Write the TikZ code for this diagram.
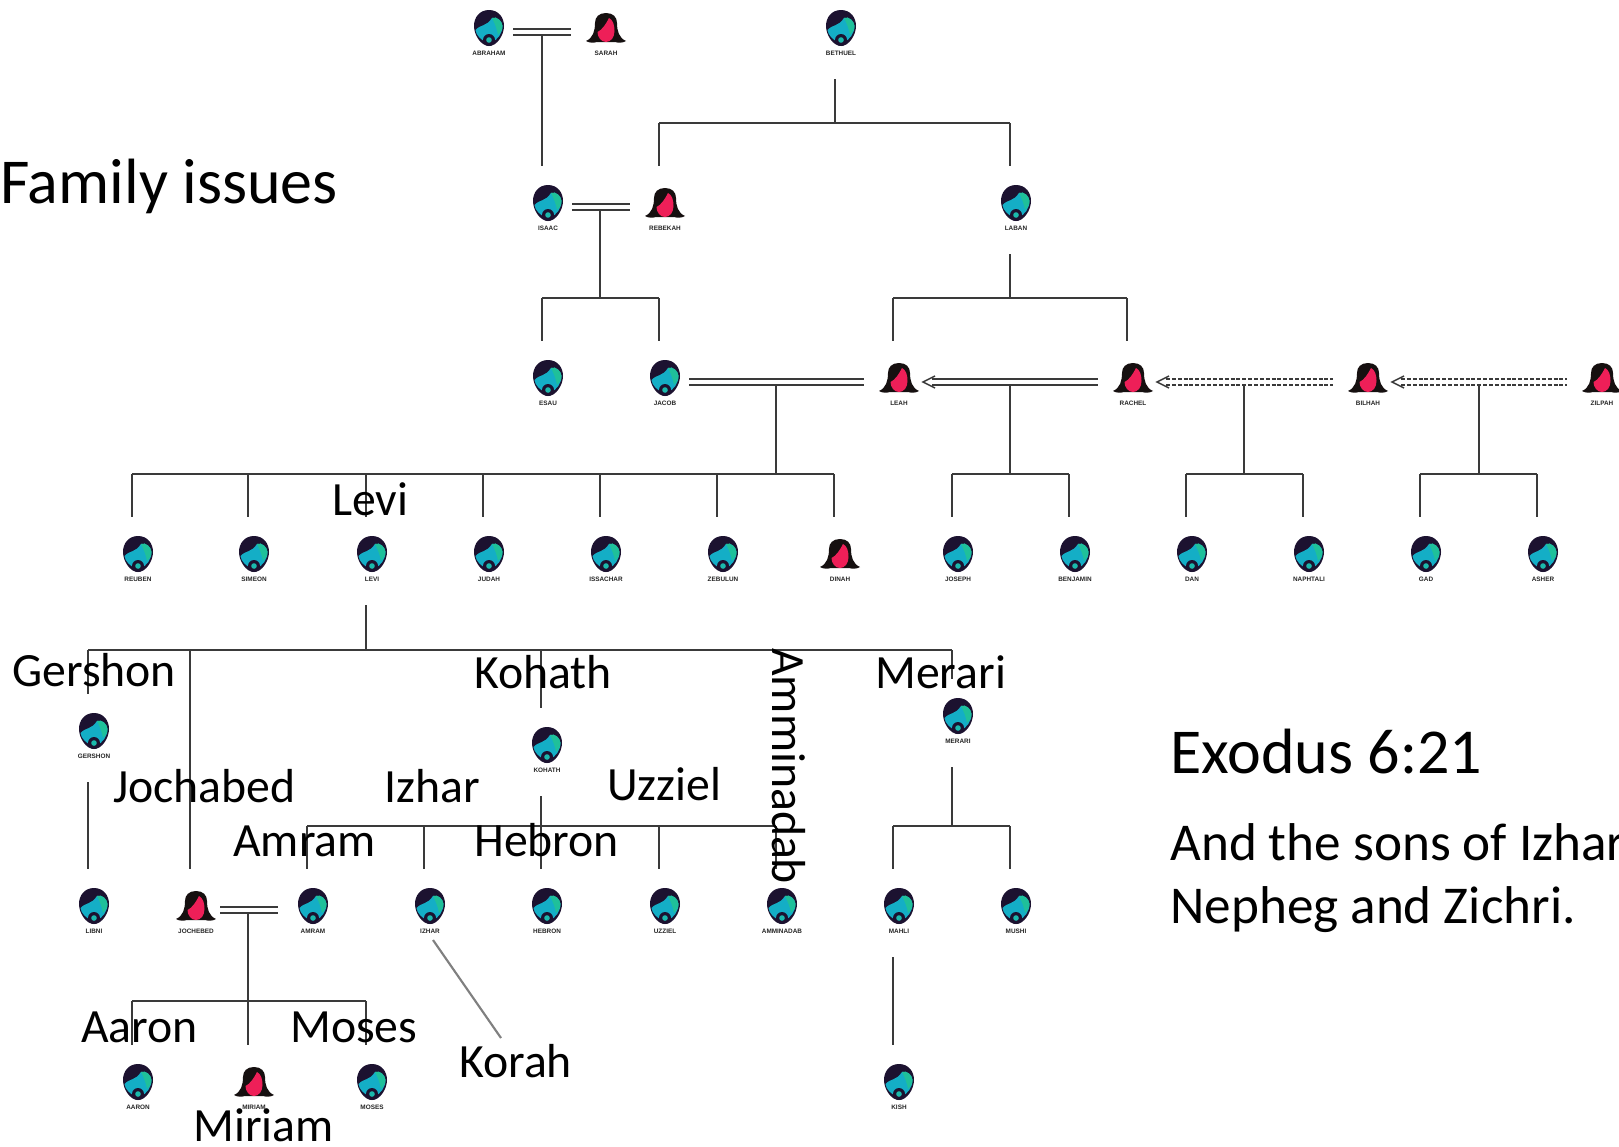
\documentclass[tikz,border=0pt]{standalone}
\usepackage{fontspec}
\setmainfont{Carlito}
\newfontfamily\tinyfam{Liberation Sans}
\definecolor{headdark}{HTML}{1C1230}
\definecolor{faceteal}{HTML}{14AEC6}
\definecolor{facegreen}{HTML}{1FC09A}
\definecolor{facepink}{HTML}{EE1F58}
\definecolor{hairblack}{HTML}{161010}
\definecolor{linedark}{HTML}{3A3A3A}
\tikzset{
  malehead/.pic={
    \fill[headdark] (0,-18) .. controls (10,-18) and (15,-10) .. (15,-2) .. controls (15,7) and (8,18) .. (0,18) .. controls (-8,18) and (-15,7) .. (-15,-2) .. controls (-15,-10) and (-10,-18) .. (0,-18) -- cycle;
    \fill[faceteal] (-13.5,2) .. controls (-8,-4) and (-3,-1) .. (3,-10) .. controls (8,-12) and (13,-7) .. (13.5,-2) .. controls (13.5,6) and (8,12) .. (3,14) -- (-3,14) .. controls (-8,12) and (-13,7) .. (-13.5,2) -- cycle;
    \fill[facegreen] (3,-10) .. controls (8,-12) and (13,-7) .. (13.5,-2) .. controls (13.5,2) and (11,5) .. (9,7) .. controls (8,1) and (6,-4) .. (3,-10) -- cycle;
    \fill[headdark] (0,12) circle[radius=6];
    \fill[facegreen!60!faceteal] (0,12) circle[radius=2.8];
  },
  femalehead/.pic={
    \fill[hairblack] (0,-15) .. controls (7,-15) and (11,-11) .. (11,-5) .. controls (11,3) and (13,10) .. (20,13) .. controls (17,15) and (12,15) .. (9,14) -- (-9,14) .. controls (-12,15) and (-17,15) .. (-20,13) .. controls (-13,10) and (-11,3) .. (-11,-5) .. controls (-11,-11) and (-7,-15) .. (0,-15) -- cycle;
    \fill[facepink] (3,-10) .. controls (7,-8) and (8.5,-3) .. (8.5,3) .. controls (8.5,9) and (5,14) .. (0,14) .. controls (-5,14) and (-8.5,9) .. (-8.5,4) .. controls (-4,2) and (0,-4) .. (3,-10) -- cycle;
  },
  personbox/.style={minimum width=22.5pt,minimum height=27pt,inner sep=0pt,draw=none},
  tinylabel/.style={inner sep=0pt,text=black!85,font=\tinyfam\bfseries\fontsize{4.8}{6}\selectfont},
  tree/.style={draw=linedark,line width=1.15pt},
  spouse/.style={draw=linedark,line width=1.1pt},
  concubine/.style={draw=linedark,line width=1.1pt,dash pattern=on 3pt off 1.4pt},
  chevron/.style={draw=linedark,line width=1.1pt},
  pointer/.style={draw=black!50,line width=1.6pt},
  bigname/.style={anchor=base west,inner sep=0pt,font=\fontsize{35.8}{42}\selectfont,text=black},
  heading/.style={anchor=base west,inner sep=0pt,font=\fontsize{48}{56}\selectfont,text=black},
  verse/.style={anchor=base west,inner sep=0pt,font=\fontsize{39.9}{47}\selectfont,text=black},
}
% id, x, y, label, pic
\newcommand{\person}[5]{%
  \node[personbox] (#1) at (#2,#3) {};
  \pic at (#2,#3) {#5};
  \node[tinylabel] (#1-l) at (#2,#3+25) {#4};
  \coordinate (#1-t) at (#2-6,#3-37);
  \coordinate (#1-b) at (#2-6,#3+51);
  \coordinate (#1-ea) at (#2+24,#3+1);
  \coordinate (#1-eb) at (#2+24,#3+7);
  \coordinate (#1-wa) at (#2-35,#3+1);
  \coordinate (#1-wb) at (#2-35,#3+7);
  \coordinate (#1-tip) at (#2+24,#3+4);
  \coordinate (#1-ga) at (#2+33,#3+1);
  \coordinate (#1-gb) at (#2+33,#3+7);
}
% junction, first, last, all children
\newcommand{\sibs}[4]{%
  \draw[tree] (#1 -| #2-t) -- (#1 -| #3-t);
  \foreach \kidname in {#4} {\draw[tree] (#1 -| \kidname-t) -- (\kidname-t);}
}
\begin{document}
\begin{tikzpicture}[x=0.75pt,y=-0.75pt]
\useasboundingbox[fill=white] (0,0) rectangle (1619,1146);
% people
\person{abraham}{489}{28}{ABRAHAM}{malehead}
\person{sarah}{606}{28}{SARAH}{femalehead}
\person{bethuel}{841}{28}{BETHUEL}{malehead}
\person{isaac}{548}{203}{ISAAC}{malehead}
\person{rebekah}{665}{203}{REBEKAH}{femalehead}
\person{laban}{1016}{203}{LABAN}{malehead}
\person{esau}{548}{378}{ESAU}{malehead}
\person{jacob}{665}{378}{JACOB}{malehead}
\person{leah}{899}{378}{LEAH}{femalehead}
\person{rachel}{1133}{378}{RACHEL}{femalehead}
\person{bilhah}{1368}{378}{BILHAH}{femalehead}
\person{zilpah}{1602}{378}{ZILPAH}{femalehead}
\person{reuben}{138}{554}{REUBEN}{malehead}
\person{simeon}{254}{554}{SIMEON}{malehead}
\person{levi}{372}{554}{LEVI}{malehead}
\person{judah}{489}{554}{JUDAH}{malehead}
\person{issachar}{606}{554}{ISSACHAR}{malehead}
\person{zebulun}{723}{554}{ZEBULUN}{malehead}
\person{dinah}{840}{554}{DINAH}{femalehead}
\person{joseph}{958}{554}{JOSEPH}{malehead}
\person{benjamin}{1075}{554}{BENJAMIN}{malehead}
\person{dan}{1192}{554}{DAN}{malehead}
\person{naphtali}{1309}{554}{NAPHTALI}{malehead}
\person{gad}{1426}{554}{GAD}{malehead}
\person{asher}{1543}{554}{ASHER}{malehead}
\person{gershon}{94}{731}{GERSHON}{malehead}
\person{kohath}{547}{745}{KOHATH}{malehead}
\person{merari}{958}{716}{MERARI}{malehead}
\person{libni}{94}{906}{LIBNI}{malehead}
\person{jochebed}{196}{906}{JOCHEBED}{femalehead}
\person{amram}{313}{906}{AMRAM}{malehead}
\person{izhar}{430}{906}{IZHAR}{malehead}
\person{hebron}{547}{906}{HEBRON}{malehead}
\person{uzziel}{665}{906}{UZZIEL}{malehead}
\person{amminadab}{782}{906}{AMMINADAB}{malehead}
\person{mahli}{899}{906}{MAHLI}{malehead}
\person{mushi}{1016}{906}{MUSHI}{malehead}
\person{aaron}{138}{1082}{AARON}{malehead}
\person{miriam}{254}{1082}{MIRIAM}{femalehead}
\person{moses}{372}{1082}{MOSES}{malehead}
\person{kish}{899}{1082}{KISH}{malehead}
% marriages
\draw[spouse] (abraham-ea) -- (sarah-wa);
\draw[spouse] (abraham-eb) -- (sarah-wb);
\draw[spouse] (isaac-ea) -- (rebekah-wa);
\draw[spouse] (isaac-eb) -- (rebekah-wb);
\draw[spouse] (jacob-ea) -- (leah-wa);
\draw[spouse] (jacob-eb) -- (leah-wb);
\draw[spouse] (jochebed-ea) -- (amram-wa);
\draw[spouse] (jochebed-eb) -- (amram-wb);
\draw[spouse] (leah-ga) -- (rachel-wa);
\draw[spouse] (leah-gb) -- (rachel-wb);
\draw[chevron] ([shift={(12,-6)}]leah-tip) -- (leah-tip) -- ([shift={(12,6)}]leah-tip);
\draw[concubine] (rachel-ga) -- (bilhah-wa);
\draw[concubine] (rachel-gb) -- (bilhah-wb);
\draw[chevron] ([shift={(12,-6)}]rachel-tip) -- (rachel-tip) -- ([shift={(12,6)}]rachel-tip);
\draw[concubine] (bilhah-ga) -- (zilpah-wa);
\draw[concubine] (bilhah-gb) -- (zilpah-wb);
\draw[chevron] ([shift={(12,-6)}]bilhah-tip) -- (bilhah-tip) -- ([shift={(12,6)}]bilhah-tip);
% descent
\draw[tree] (abraham-eb -| isaac-t) -- (isaac-t);
\coordinate (jbeth) at (835,123);
\draw[tree] (bethuel-b) -- (jbeth);
\sibs{jbeth}{rebekah}{laban}{rebekah,laban}
\coordinate (jisaac) at (600,298);
\draw[tree] (isaac-eb -| jisaac) -- (jisaac);
\sibs{jisaac}{esau}{jacob}{esau,jacob}
\coordinate (jlaban) at (1010,298);
\draw[tree] (laban-b) -- (jlaban);
\sibs{jlaban}{leah}{rachel}{leah,rachel}
\coordinate (jjacob) at (776,474);
\draw[tree] (jacob-eb -| jjacob) -- (jjacob);
\sibs{jjacob}{reuben}{dinah}{reuben,simeon,levi,judah,issachar,zebulun,dinah}
\coordinate (jrachel) at (1010,474);
\draw[tree] (leah-gb -| jrachel) -- (jrachel);
\sibs{jrachel}{joseph}{benjamin}{joseph,benjamin}
\coordinate (jbilhah) at (1244,474);
\draw[tree] (rachel-gb -| jbilhah) -- (jbilhah);
\sibs{jbilhah}{dan}{naphtali}{dan,naphtali}
\coordinate (jzilpah) at (1479,474);
\draw[tree] (bilhah-gb -| jzilpah) -- (jzilpah);
\sibs{jzilpah}{gad}{asher}{gad,asher}
\coordinate (jlevi) at (366,650);
\draw[tree] (levi-b) -- (jlevi);
\sibs{jlevi}{gershon}{merari}{gershon,jochebed,kohath,merari}
\draw[tree] (gershon-b) -- (libni-t);
\coordinate (jkohath) at (541,826);
\draw[tree] (kohath-b) -- (jkohath);
\sibs{jkohath}{amram}{amminadab}{amram,izhar,hebron,uzziel,amminadab}
\coordinate (jmerari) at (952,826);
\draw[tree] (merari-b) -- (jmerari);
\sibs{jmerari}{mahli}{mushi}{mahli,mushi}
\coordinate (jamram) at (248,1001);
\draw[tree] (jochebed-eb -| jamram) -- (jamram);
\sibs{jamram}{aaron}{moses}{aaron,miriam,moses}
\draw[tree] (mahli-b) -- (kish-t);
% captions
\node[heading] (title) at (0,203) {Family issues};
\node[bigname] (nlevi) at (332,515) {Levi};
\node[bigname] (ngershon) at (12,686) {Gershon};
\node[bigname] (nkohath) at (474,688) {Kohath};
\node[bigname] (nmerari) at (875,688) {Merari};
\node[bigname] (njochabed) at (113,802) {Jochabed};
\node[bigname] (nizhar) at (384,802) {Izhar};
\node[bigname] (nuzziel) at (607,800) {Uzziel};
\node[bigname] (namram) at (233,856) {Amram};
\node[bigname] (nhebron) at (474,856) {Hebron};
\node[bigname,rotate=-90] (namminadab) at (772,648) {Amminadab};
\node[bigname] (naaron) at (81,1042) {Aaron};
\node[bigname] (nmoses) at (290,1042) {Moses};
\node[bigname] (nmiriam) at (193,1141) {Miriam};
\node[bigname] (nkorah) at (459,1077) {Korah};
\coordinate (izhar-k) at (433,940);
\coordinate (korah-k) at (501,1038);
\draw[pointer] (izhar-k) -- (korah-k);
\node[heading] (exodus) at (1170,773) {Exodus 6:21};
\node[verse] (verse1) at (1170,860) {And the sons of Izhar};
\node[verse] (verse2) at (1170,923) {Nepheg and Zichri.};
\end{tikzpicture}
\end{document}
